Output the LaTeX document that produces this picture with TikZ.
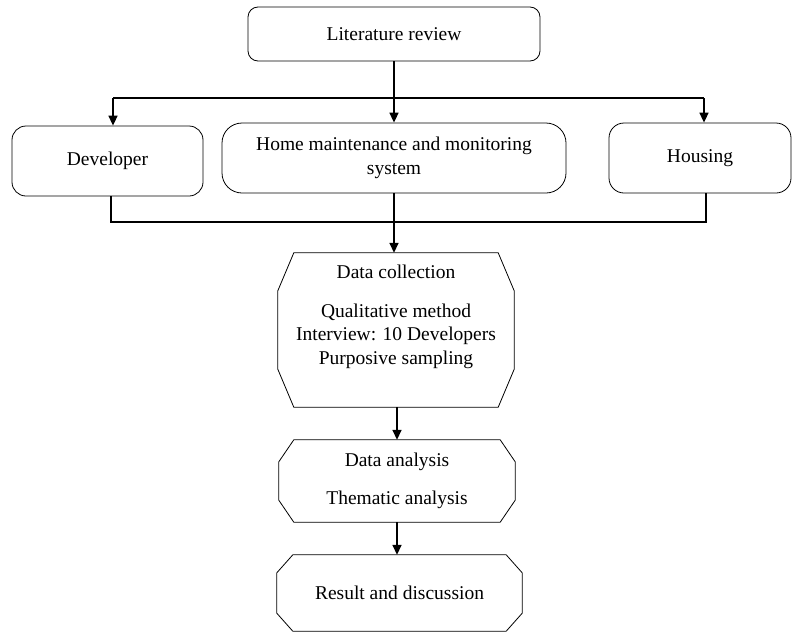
\documentclass[tikz,border=0pt]{standalone}
\usepackage{fontspec}
\setmainfont{Liberation Serif}
\usetikzlibrary{arrows.meta,positioning}

% chamfered outline round a named node: node, horizontal cut, vertical cut
\newcommand\chamferbox[3]{%
    \draw[line width=0.8pt] ([xshift=#2]#1.north west) -- ([xshift=-#2]#1.north east)
        -- ([yshift=-#3]#1.north east) -- ([yshift=#3]#1.south east)
        -- ([xshift=-#2]#1.south east) -- ([xshift=#2]#1.south west)
        -- ([yshift=#3]#1.south west) -- ([yshift=-#3]#1.north west) -- cycle;}

\begin{document}
\begin{tikzpicture}[x=1pt,y=-1pt,
    font=\fontsize{19.5}{23.5}\selectfont,
    rbox/.style={draw,line width=0.8pt,rounded corners=#1,align=center,inner sep=0pt},
    rbox/.default=12pt,
    cbox/.style={align=center,inner sep=0pt},
    link/.style={line width=1.6pt},
    arr/.style={link,-{Triangle[width=9pt,length=10pt]}}]
    \useasboundingbox (0,0) rectangle (792,632);
    % top row
    \node[rbox=10pt,minimum width=292pt,minimum height=54pt] (lit) at (394,34) {Literature review};
    \node[rbox=14pt,minimum width=191pt,minimum height=70pt] (dev) at (107.5,161) {Developer};
    \node[rbox=20pt,minimum width=344pt,minimum height=70pt] (home) at (394,158)
        {Home maintenance and monitoring\\system};
    \node[rbox=15pt,minimum width=182pt,minimum height=70pt] (housing) at (700,158) {Housing};
    %
    \coordinate (topL) at (113,98);
    \coordinate (topR) at (704,98);
    \coordinate (botL) at (111,222);
    \coordinate (botR) at (706,222);
    % stages
    \node[cbox,minimum width=236pt,minimum height=154pt] (datacol) at (396,330) {};
    \node[cbox,below=12pt of datacol.north] (datacoltxt)
        {Data collection\\[15pt]Qualitative method\\Interview: 10 Developers\\Purposive sampling};
    \node[cbox,minimum width=236pt,minimum height=82pt] (ana) at (397,481)
        {Data analysis\\[14pt]Thematic analysis};
    \node[cbox,minimum width=245pt,minimum height=76pt] (res) at (399.5,593)
        {Result and discussion};
    \chamferbox{datacol}{16pt}{38pt}
    \chamferbox{ana}{15pt}{22pt}
    \chamferbox{res}{16pt}{18pt}
    % connectors
    \draw[arr] (lit.south) -- (home.north);
    \draw[link] (topL) -- (topR);
    \draw[arr] (topL) -- (topL |- dev.north);
    \draw[arr] (topR) -- (topR |- housing.north);
    \draw[link] (botL |- dev.south) -- (botL) -- (botR) -- (botR |- housing.south);
    \draw[arr] (home.south) -- (home.south |- datacol.north);
    \draw[arr] (datacol.south -| ana.north) -- (ana.north);
    \draw[arr] (ana.south) -- (ana.south |- res.north);
\end{tikzpicture}
\end{document}
